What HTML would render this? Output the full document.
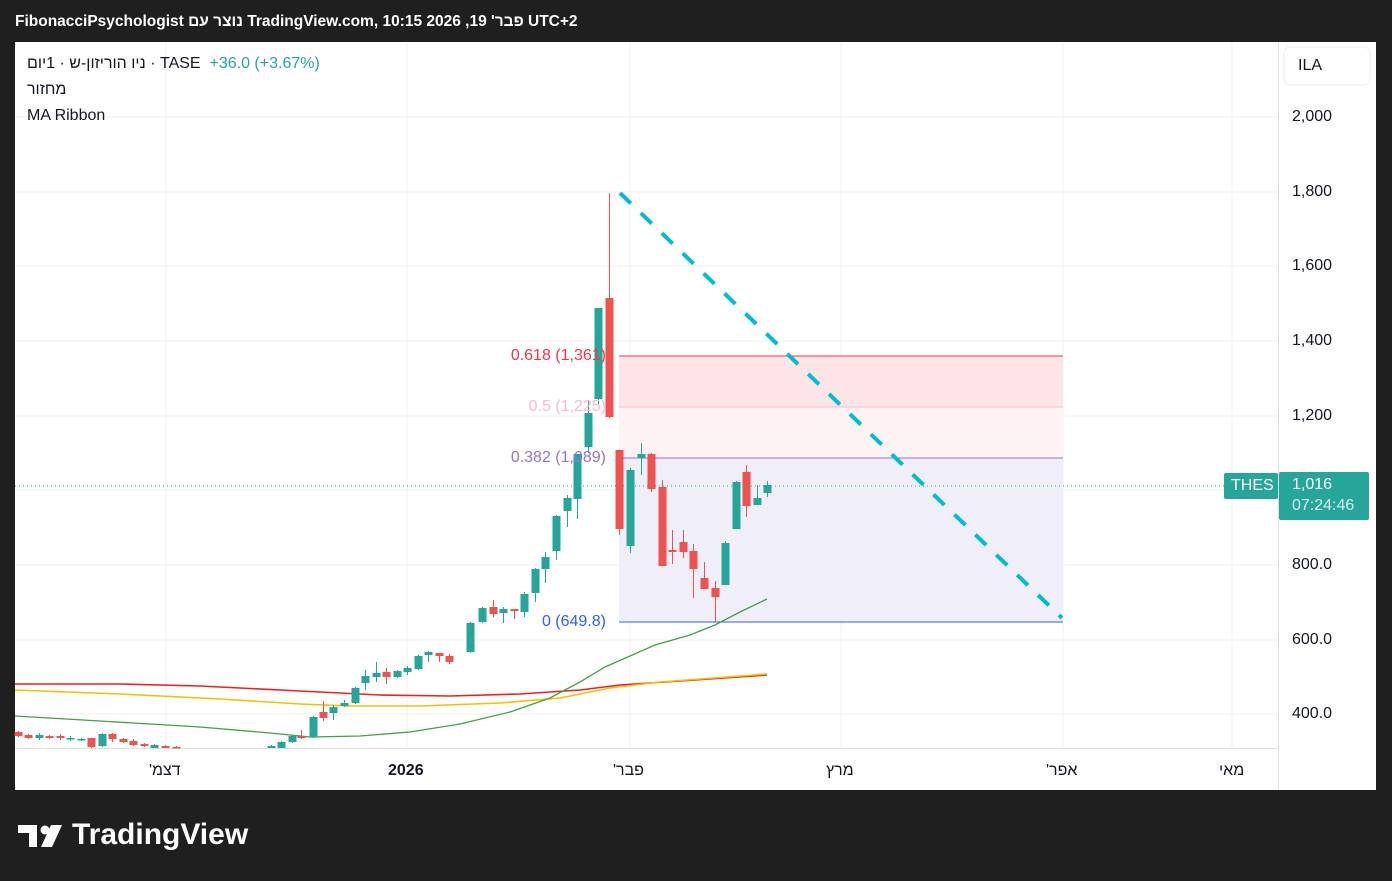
<!DOCTYPE html>
<html><head><meta charset="utf-8"><style>
body{margin:0;background:#1f1f1f;width:1392px;height:881px;overflow:hidden;position:relative;font-family:"Liberation Sans","DejaVu Sans",sans-serif}
.t{position:absolute;white-space:nowrap;font-size:16px;color:#131722;line-height:1}
svg{position:absolute;left:0;top:0}
</style></head><body>
<svg width="1392" height="881" xmlns="http://www.w3.org/2000/svg">
<rect width="1392" height="881" fill="#1f1f1f"/>
<rect x="15" y="42" width="1362" height="748" fill="#fff"/>
<g stroke="#f0f0f0" stroke-width="1">
<line x1="15" x2="1278" y1="117" y2="117"/><line x1="15" x2="1278" y1="192" y2="192"/><line x1="15" x2="1278" y1="266" y2="266"/><line x1="15" x2="1278" y1="341" y2="341"/><line x1="15" x2="1278" y1="416" y2="416"/><line x1="15" x2="1278" y1="490" y2="490"/><line x1="15" x2="1278" y1="565" y2="565"/><line x1="15" x2="1278" y1="640" y2="640"/><line x1="15" x2="1278" y1="714" y2="714"/>
<line x1="166" x2="166" y1="42" y2="748"/><line x1="407" x2="407" y1="42" y2="748"/><line x1="630" x2="630" y1="42" y2="748"/><line x1="841" x2="841" y1="42" y2="748"/><line x1="1063" x2="1063" y1="42" y2="748"/><line x1="1232" x2="1232" y1="42" y2="748"/>
</g>
<line x1="1278.5" x2="1278.5" y1="42" y2="790" stroke="#e0e0e0"/>
<line x1="15" x2="1278" y1="748.5" y2="748.5" stroke="#e0e0e0"/>
<rect x="619" y="356" width="444" height="51" fill="#fce4e7"/>
<rect x="619" y="407" width="444" height="51" fill="#fdf3f4"/>
<rect x="619" y="458" width="444" height="164" fill="#f0eef8"/>
<line x1="619" x2="1063" y1="356" y2="356" stroke="#f23645"/>
<line x1="619" x2="1063" y1="407" y2="407" stroke="#f8bbd0"/>
<line x1="619" x2="1063" y1="458" y2="458" stroke="#9575cd"/>
<line x1="619" x2="1063" y1="622" y2="622" stroke="#2962ff"/>
<line x1="15" x2="1278" y1="486" y2="486" stroke="#26a69a" stroke-dasharray="1,3"/>
<polyline fill="none" stroke="#f21e1e" stroke-width="1.6" points="15,684 120,684 200,686 300,691 380,695 450,696 520,694 580,690 620,685 680,681 767,675"/>
<polyline fill="none" stroke="#f5c000" stroke-width="1.6" points="15,690 120,694 220,699 300,704 350,706 420,706 500,703 560,698 610,688 660,682 767,674"/>
<polyline fill="none" stroke="#43a047" stroke-width="1.3" points="15,716 100,721 200,727 270,733 310,737 360,736 410,732 460,724 510,712 550,698 580,682 605,667 630,656 655,645 690,635 715,625 740,612 767,599"/>
<g id="c"></g>
<line x1="620" y1="193" x2="1062" y2="618" stroke="#00bcd4" stroke-width="4" stroke-dasharray="15,14"/>
<rect x="1284" y="47" width="86" height="38" rx="6" fill="#fff" stroke="#eee"/>
<rect x="1224" y="473" width="54" height="26" rx="2" fill="#26a69a"/>
<rect x="1279" y="472" width="90" height="48" rx="2" fill="#26a69a"/>
<line x1="1377" x2="1377" y1="42" y2="790" stroke="#1f1f1f" stroke-width="2"/>
<path d="M18 825h19v22h-8v-14h-11z M41 847l10-22h11l-10 22z" fill="#fff"/>
<circle cx="45" cy="830" r="4.5" fill="#fff"/>
</svg>
<div class="t" dir="ltr" style="left:15px;top:14px;color:#fff;font-size:15.5px;font-weight:bold">FibonacciPsychologist <span dir="rtl">נוצר עם</span> TradingView.com, 10:15 2026 ,19 <span dir="rtl">פבר'</span> UTC+2</div>
<div class="t" style="left:27px;top:56px"><span dir="rtl">ניו הוריזון-ש · 1יום</span> · TASE &nbsp;<span style="color:#26a69a">+36.0 (+3.67%)</span></div>
<div class="t" dir="rtl" style="left:27px;top:82px">מחזור</div>
<div class="t" style="left:27px;top:108px">MA Ribbon</div>
<div class="t" style="right:786px;top:348px;color:#f23645">0.618 (1,361)</div>
<div class="t" style="right:786px;top:399px;color:#f8bbd0">0.5 (1,225)</div>
<div class="t" style="right:786px;top:450px;color:#9575cd">0.382 (1,089)</div>
<div class="t" style="right:786px;top:614px;color:#2962ff">0 (649.8)</div>
<div class="t" style="left:1298px;top:58px">ILA</div>
<div class="t" style="left:1292px;top:109px">2,000</div>
<div class="t" style="left:1292px;top:184px">1,800</div>
<div class="t" style="left:1292px;top:258px">1,600</div>
<div class="t" style="left:1292px;top:333px">1,400</div>
<div class="t" style="left:1292px;top:408px">1,200</div>
<div class="t" style="left:1292px;top:557px">800.0</div>
<div class="t" style="left:1292px;top:632px">600.0</div>
<div class="t" style="left:1292px;top:706px">400.0</div>
<div class="t" style="left:1231px;top:478px;color:#fff">THES</div>
<div class="t" style="left:1292px;top:477px;color:#fff">1,016</div>
<div class="t" style="left:1292px;top:498px;color:#d8f0ec">07:24:46</div>
<div class="t" dir="rtl" style="left:149px;top:763px">דצמ'</div>
<div class="t" style="left:388px;top:763px;font-weight:bold">2026</div>
<div class="t" dir="rtl" style="left:613px;top:763px">פבר'</div>
<div class="t" dir="rtl" style="left:826px;top:763px">מרץ</div>
<div class="t" dir="rtl" style="left:1046px;top:763px">אפר'</div>
<div class="t" dir="rtl" style="left:1219px;top:763px">מאי</div>
<div class="t" style="left:72px;top:820px;font-size:30px;color:#fff;font-weight:bold">TradingView</div>
<script>
var d=[[18,'r',732,736,731,737],[28,'r',735,738,734,739],[39,'g',735,738,733,740],[49,'r',736,738,735,739],[60,'r',736,738,734,740],[70,'g',738,739,736,741],[81,'g',739,740,738,741],[91,'r',738,747,738,748],[102,'g',734,746,733,747],[112,'r',734,739,733,742],[123,'r',739,742,738,743],[133,'r',741,745,739,746],[144,'r',744,746,743,747],[154,'g',745,748,744,748],[165,'r',746,748,745,748],[176,'r',747,748,746,748],
[271,'g',746,748,745,748],[281,'g',742,748,741,748],[292,'g',736,742,735,743],[301,'r',736,738,730,739],[313,'g',717,737,716,738],[323,'r',712,718,701,721],[333,'g',707,713,705,720],[344,'g',703,706,700,707],[355,'g',688,703,687,704],[365,'g',676,683,670,690],[376,'g',673,677,662,682],[386,'r',672,677,668,684],[397,'g',671,677,670,678],[407,'g',668,672,666,675],[418,'g',656,669,655,670],[428,'g',652,655,651,662],[439,'r',653,656,653,662],[449,'r',656,662,654,664],[470,'g',623,652,622,653],
[482,'g',608,622,607,623],[493,'r',607,614,600,617],[503,'g',609,613,607,623],[514,'r',609,611,609,619],[524,'g',594,612,592,617],[535,'g',569,593,568,602],[545,'g',557,569,552,583],[556,'g',516,551,515,560],[567,'g',498,511,495,527],[577,'g',454,499,454,519],[588,'g',413,447,400,453],[598,'g',308,399,308,404],[609,'r',298,417,193,418],[619,'r',450,529,450,535],[630,'g',470,546,468,553],[641,'g',454,458,443,475],[651,'r',454,489,453,492],[662,'r',487,566,480,566],[672,'r',550,552,530,564],[683,'r',542,552,530,558],[693,'r',551,569,544,598],[704,'r',578,589,562,589],[715,'r',588,597,581,622],[725,'g',543,585,541,585],[736,'g',482,529,481,529],[746,'r',472,506,465,517],[757,'g',498,505,485,505],[767,'g',485,493,481,497]];
var s='';d.forEach(function(c){var col=c[1]=='g'?'#26a69a':'#ef5350';s+='<line x1="'+c[0]+'.5" x2="'+c[0]+'.5" y1="'+c[4]+'" y2="'+c[5]+'" stroke="'+col+'"/><rect x="'+(c[0]-3.5)+'" y="'+c[2]+'" width="8" height="'+Math.max(1.5,c[3]-c[2])+'" fill="'+col+'"/>';});
document.getElementById('c').innerHTML=s;
</script>
</body></html>
